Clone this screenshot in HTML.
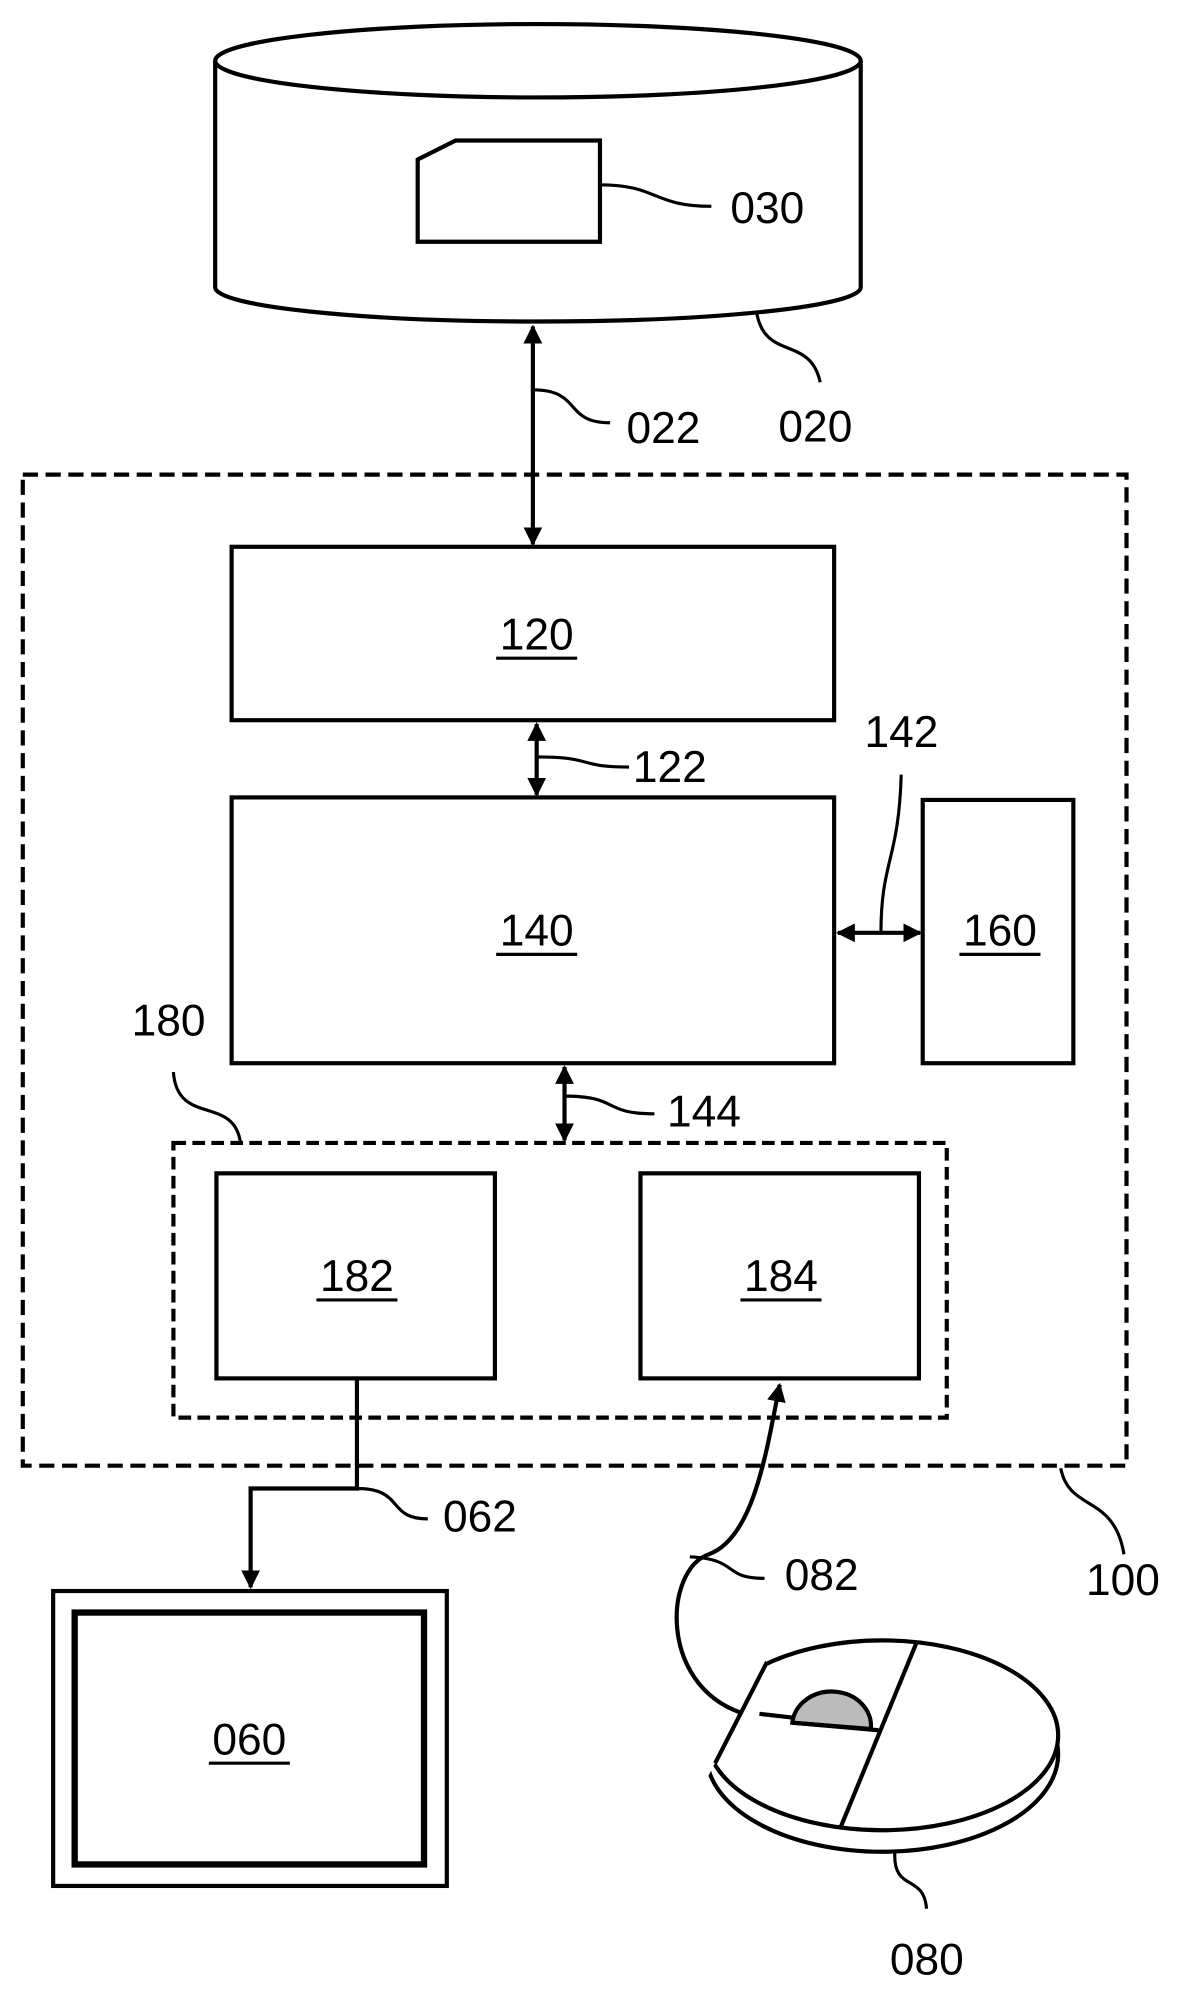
<!DOCTYPE html>
<html><head><meta charset="utf-8"><style>
html,body{margin:0;padding:0;background:#fff;}
svg{display:block;}
text{font-family:"Liberation Sans",sans-serif;font-size:35px;fill:#000;}
</style></head><body>
<svg width="1186" height="1991" viewBox="0 0 937 1573" preserveAspectRatio="none" xmlns="http://www.w3.org/2000/svg">
<defs>
<marker id="a" viewBox="0 0 10 10" refX="9" refY="5" markerWidth="4.5" markerHeight="4.5" orient="auto-start-reverse"><path d="M0,0 L10,5 L0,10 z" fill="#000"/></marker>
<clipPath id="mc"><polygon points="638,1250 551,1420 551,1520 900,1520 900,1250"/></clipPath>
</defs>
<g fill="none" stroke="#000" stroke-width="3.3">
<path d="M170,48 L170,227 A255,27 0 0 0 680,227 L680,48"/>
<ellipse cx="425" cy="48" rx="255" ry="29"/>
<path d="M330,126 L360,111 L474,111 L474,191 L330,191 Z"/>
<path d="M474,146 C520,146 515,163 562,163" stroke-width="2.5"/>
<path d="M598,248 C605,285 640,265 648,302" stroke-width="2.5"/>
<line x1="421" y1="258" x2="421" y2="430" marker-start="url(#a)" marker-end="url(#a)"/>
<path d="M421,308 C460,308 445,334 482,334" stroke-width="2.5"/>
<rect x="18" y="375" width="872" height="783" stroke-dasharray="12,6"/>
<path d="M838,1160 C845,1195 880,1180 888,1228" stroke-width="2.5"/>
<rect x="183" y="432" width="476" height="137"/>
<line x1="424" y1="572" x2="424" y2="628" marker-start="url(#a)" marker-end="url(#a)"/>
<path d="M424,598 C470,598 455,606 497,606" stroke-width="2.5"/>
<rect x="183" y="630" width="476" height="210"/>
<rect x="729" y="632" width="119" height="208"/>
<line x1="662" y1="737" x2="727" y2="737" marker-start="url(#a)" marker-end="url(#a)"/>
<path d="M696,737 C696,680 710,680 712,612" stroke-width="2.5"/>
<line x1="446" y1="843" x2="446" y2="901" marker-start="url(#a)" marker-end="url(#a)"/>
<path d="M446,866 C490,866 475,880 517,880" stroke-width="2.5"/>
<rect x="137" y="903" width="611" height="217" stroke-dasharray="10,5"/>
<path d="M137,847 C140,890 185,865 190,903" stroke-width="2.5"/>
<rect x="171" y="927" width="220" height="162"/>
<rect x="506" y="927" width="220" height="162"/>
<path d="M282,1089 L282,1176 L198,1176 L198,1254" marker-end="url(#a)"/>
<path d="M282,1176 C320,1176 305,1200 338,1200" stroke-width="2.5"/>
<rect x="42" y="1257" width="311" height="233"/>
<rect x="59" y="1274" width="276" height="199" stroke-width="5"/>
<path d="M585,1353 C520,1330 525,1240 560,1228 C595,1215 605,1150 616,1094" marker-end="url(#a)"/>
<path d="M545,1230 C585,1232 570,1247 604,1247" stroke-width="2.5"/>
<g clip-path="url(#mc)">
<ellipse cx="697" cy="1386" rx="139" ry="77" fill="#fff"/>
<ellipse cx="697" cy="1371" rx="139" ry="75" fill="#fff"/>
</g>
<line x1="606" y1="1313" x2="565" y2="1393"/>
<line x1="724" y1="1298" x2="664" y2="1444"/>
<path d="M626,1361 A31,27 0 0 1 688,1366 Z" fill="#bbb"/>
<line x1="626" y1="1361" x2="694" y2="1367"/>
<line x1="600" y1="1354" x2="626" y2="1357"/>
<path d="M707,1463 C705,1495 730,1480 732,1508" stroke-width="2.5"/>
</g>
<g>
<text x="577" y="176">030</text>
<text x="495" y="350">022</text>
<text x="615" y="349">020</text>
<text x="424" y="513" text-anchor="middle">120</text>
<line x1="392" y1="520" x2="456" y2="520" stroke="#000" stroke-width="2.5"/>
<text x="500" y="618">122</text>
<text x="683" y="590">142</text>
<text x="424" y="747" text-anchor="middle">140</text>
<line x1="392" y1="754" x2="456" y2="754" stroke="#000" stroke-width="2.5"/>
<text x="790" y="747" text-anchor="middle">160</text>
<line x1="758" y1="754" x2="822" y2="754" stroke="#000" stroke-width="2.5"/>
<text x="104" y="818">180</text>
<text x="527" y="890">144</text>
<text x="282" y="1020" text-anchor="middle">182</text>
<line x1="250" y1="1027" x2="314" y2="1027" stroke="#000" stroke-width="2.5"/>
<text x="617" y="1020" text-anchor="middle">184</text>
<line x1="585" y1="1027" x2="649" y2="1027" stroke="#000" stroke-width="2.5"/>
<text x="350" y="1210">062</text>
<text x="197" y="1386" text-anchor="middle">060</text>
<line x1="165" y1="1393" x2="229" y2="1393" stroke="#000" stroke-width="2.5"/>
<text x="620" y="1256">082</text>
<text x="858" y="1260">100</text>
<text x="703" y="1560">080</text>
</g>
</svg>
</body></html>
